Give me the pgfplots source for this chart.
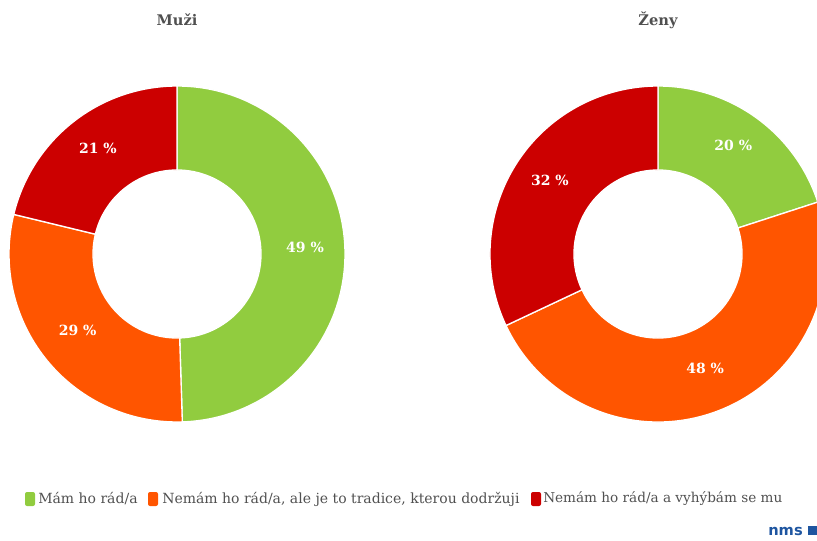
\documentclass[border=0pt]{standalone}
\usepackage{pgfplots}
\pgfplotsset{compat=1.18}
\usepackage{pgfplotstable}
\usepackage{fontspec}
\setmainfont{DejaVu Serif}
\setsansfont{DejaVu Sans}
\definecolor{cgreen}{RGB}{145,204,63}
\definecolor{corange}{RGB}{255,85,0}
\definecolor{cred}{RGB}{204,0,0}
\definecolor{ctext}{RGB}{80,80,80}
\definecolor{cblue}{RGB}{30,85,160}

\pgfplotstableread{
cat value
0 49
1 29
2 21
}\muzi
\pgfplotstableread{
cat value
0 20
1 48
2 32
}\zeny

\newcommand\slicecolor[1]{\ifcase#1 cgreen\or corange\or cred\fi}

% #1 table, #2 cx, #3 cy (axis units = px)
\newcommand\donut[3]{%
  \xdef\tot{0}%
  \pgfplotstableforeachcolumnelement{value}\of#1\as\v{%
    \pgfmathparse{\tot+\v}\xdef\tot{\pgfmathresult}}%
  \xdef\start{90}%
  \pgfplotstableforeachcolumnelement{value}\of#1\as\v{%
    \pgfmathparse{\start-360*(\v/\tot)}\xdef\stop{\pgfmathresult}%
    \pgfmathparse{(\start+\stop)/2}\xdef\mid{\pgfmathresult}%
    \edef\tmp{\noexpand\begin{scope}[shift={(axis cs:#2,#3)}]
      \noexpand\fill[\slicecolor{\pgfplotstablerow}, draw=white, line width=1pt]
        (\start:126pt) arc[start angle=\start, end angle=\stop, radius=126pt]
        -- (\stop:63pt) arc[start angle=\stop, end angle=\start, radius=63pt] -- cycle;
      \noexpand\node[text=white, font=\noexpand\fontsize{10.5}{12}\noexpand\selectfont\noexpand\bfseries, yshift=3.5pt] at (\mid:96pt) {\v{} \noexpand\%};
      \noexpand\end{scope}}%
    \tmp
    \xdef\start{\stop}%
  }%
}

\begin{document}
\begin{tikzpicture}
\useasboundingbox (0,0) rectangle (612.75pt,405pt);
\begin{axis}[
  at={(0,0)}, anchor=south west,
  width=612.75pt, height=405pt, scale only axis,
  xmin=0, xmax=817, ymin=0, ymax=540,
  hide axis, clip=true,
]
\addplot[draw=none] coordinates {(0,0) (817,540)};
\donut{\muzi}{177}{286}
\donut{\zeny}{658}{286}
\node[font=\fontsize{11}{13}\selectfont\bfseries, text=ctext] at (axis cs:177,520) {Muži};
\node[font=\fontsize{11}{13}\selectfont\bfseries, text=ctext] at (axis cs:658,520) {Ženy};
% legend
\fill[cgreen, rounded corners=1.5pt] (axis cs:25,34) rectangle (axis cs:35,48);
\node[anchor=west, inner sep=0pt, text=ctext, font=\fontsize{10.5}{12}\selectfont] at (axis cs:38,41) {Mám ho rád/a};
\fill[corange, rounded corners=1.5pt] (axis cs:148,34) rectangle (axis cs:158,48);
\node[anchor=west, inner sep=0pt, text=ctext, font=\fontsize{10.5}{12}\selectfont] at (axis cs:162,41) {Nemám ho rád/a, ale je to tradice, kterou dodržuji};
\fill[cred, rounded corners=1.5pt] (axis cs:531,34) rectangle (axis cs:541,48);
\node[anchor=west, inner sep=0pt, text=ctext, font=\fontsize{10.2}{12}\selectfont] at (axis cs:543,41) {Nemám ho rád/a a vyhýbám se mu};
% logo
\node[anchor=base west, inner sep=0pt, text=cblue, font=\sffamily\bfseries\fontsize{11}{12}\selectfont] at (axis cs:768,5) {nms};
\fill[cblue] (axis cs:808,5) rectangle (axis cs:817,14);
\end{axis}
\end{tikzpicture}
\end{document}
